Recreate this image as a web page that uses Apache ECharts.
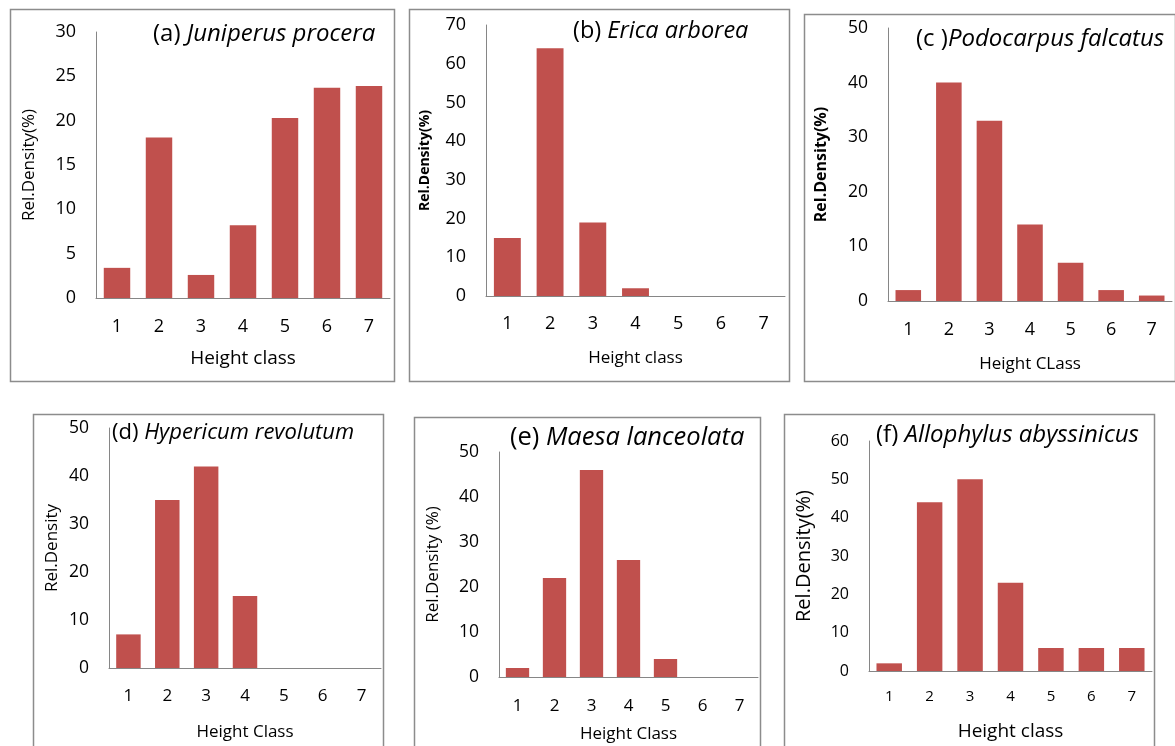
<!DOCTYPE html>
<html><head><meta charset="utf-8">
<script src="https://cdn.jsdelivr.net/npm/echarts@6/dist/echarts.min.js"></script>
<style>html,body{margin:0;padding:0;background:#fff}#c{width:1175px;height:746px}</style>
</head><body><div id="c"></div>
<script>
// ---- data ----
const categories = ['1','2','3','4','5','6','7'];
const juniperus = [3.4, 18.1, 2.6, 8.2, 20.3, 23.7, 23.9];
const erica = [15, 64, 19, 2, 0, 0, 0];
const podocarpus = [2, 40, 33, 14, 7, 2, 1];
const hypericum = [7, 35, 42, 15, 0, 0, 0];
const maesa = [2, 22, 46, 26, 4, 0, 0];
const allophylus = [2, 44, 50, 23, 6, 6, 6];
const panelLetters = ['(a) ', '(b) ', '(c )', '(d) ', '(e) ', '(f) '];
const speciesNames = ['Juniperus procera', 'Erica arborea', 'Podocarpus falcatus', 'Hypericum revolutum', 'Maesa lanceolata', 'Allophylus abyssinicus'];
const yNames = ['Rel.Density(%)', 'Rel.Density(%)', 'Rel.Density(%)', 'Rel.Density', 'Rel.Density (%)', 'Rel.Density(%)'];
const xNames = ['Height class', 'Height class', 'Height CLass', 'Height Class', 'Height Class', 'Height class'];
const yMax = [30, 70, 50, 50, 50, 60];
const yInterval = [5, 10, 10, 10, 10, 10];
const seriesData = [juniperus, erica, podocarpus, hypericum, maesa, allophylus];

// ---- layout (styles) ----
const FONT = '"Open Sans", "Noto Sans", sans-serif';
const BAR = '#C0504D';
const AX = '#868686';
const layout = [
  {grid:{left:96, top:32, width:294, height:266}, box:[8,7,384,372], tick:18, xl:18, xlm:20, yn:17, ynBold:false, ynGap:58, xn:19, xnGap:51, title:{left:153, top:22, fs:24}},
  {grid:{left:486, top:25, width:299, height:271}, box:[407,7,380,372], tick:18, xl:18, xlm:19, yn:14, ynBold:true, ynGap:54, xn:17, xnGap:54, title:{left:573, top:19, fs:23.5}},
  {grid:{left:888, top:28, width:284, height:273}, box:[802,12,371,367], tick:17.5, xl:18, xlm:20, yn:16, ynBold:true, ynGap:59, xn:17, xnGap:55, title:{left:916, top:27, fs:24}},
  {grid:{left:109, top:428, width:272, height:240}, box:[31,412,350,400], tick:17.5, xl:17, xlm:20, yn:17, ynBold:false, ynGap:48, xn:17, xnGap:56, title:{left:112, top:422, fs:22}},
  {grid:{left:499, top:452, width:259, height:225}, box:[412,415,346,400], tick:17.5, xl:17, xlm:21, yn:17, ynBold:false, ynGap:57, xn:17, xnGap:49, title:{left:510, top:425, fs:25.5}},
  {grid:{left:869, top:441, width:283, height:230}, box:[782,412,370,400], tick:16, xl:15, xlm:18, yn:20, ynBold:false, ynGap:55, xn:19, xnGap:51, title:{left:876, top:423, fs:24}}
];

const grids = [], xAxes = [], yAxes = [], series = [], titles = [], graphics = [];
layout.forEach((L, i) => {
  grids.push(Object.assign({containLabel:false}, L.grid));
  xAxes.push({
    type:'category', gridIndex:i, data:categories,
    axisLine:{show:true, lineStyle:{color:AX, width:1}},
    axisTick:{show:false},
    axisLabel:{color:'#000', fontFamily:FONT, fontSize:L.xl, margin:L.xlm},
    name:xNames[i], nameLocation:'middle', nameGap:L.xnGap,
    nameTextStyle:{color:'#000', fontFamily:FONT, fontSize:L.xn}
  });
  yAxes.push({
    type:'value', gridIndex:i, min:0, max:yMax[i], interval:yInterval[i],
    axisLine:{show:true, lineStyle:{color:AX, width:1}},
    axisTick:{show:false},
    splitLine:{show:false},
    axisLabel:{color:'#000', fontFamily:FONT, fontSize:L.tick, margin:20},
    name:yNames[i], nameLocation:'middle', nameRotate:90, nameGap:L.ynGap,
    nameTextStyle:{color:'#000', fontFamily:FONT, fontSize:L.yn, fontWeight:L.ynBold?'bold':'normal'}
  });
  series.push({
    type:'bar', xAxisIndex:i, yAxisIndex:i, data:seriesData[i],
    barCategoryGap:'37%', itemStyle:{color:BAR}, silent:true
  });
  titles.push({
    text:'{n|' + panelLetters[i] + '}{i|' + speciesNames[i] + '}',
    left:L.title.left, top:L.title.top, padding:0,
    textStyle:{fontWeight:'normal', fontSize:L.title.fs, fontFamily:FONT, rich:{
      n:{fontFamily:FONT, fontSize:L.title.fs, fontWeight:'normal', color:'#000'},
      i:{fontFamily:FONT, fontSize:L.title.fs, fontWeight:'normal', fontStyle:'italic', color:'#000'}
    }}
  });
  graphics.push({
    type:'rect', left:L.box[0], top:L.box[1], z:-1,
    shape:{width:L.box[2], height:L.box[3]},
    style:{fill:'none', stroke:'#8c8c8c', lineWidth:1.5}
  });
});

const chart = echarts.init(document.getElementById('c'), null, {renderer:'canvas'});
chart.setOption({
  animation:false,
  backgroundColor:'#fff',
  title:titles, grid:grids, xAxis:xAxes, yAxis:yAxes, series:series,
  graphic:graphics
});
</script></body></html>
